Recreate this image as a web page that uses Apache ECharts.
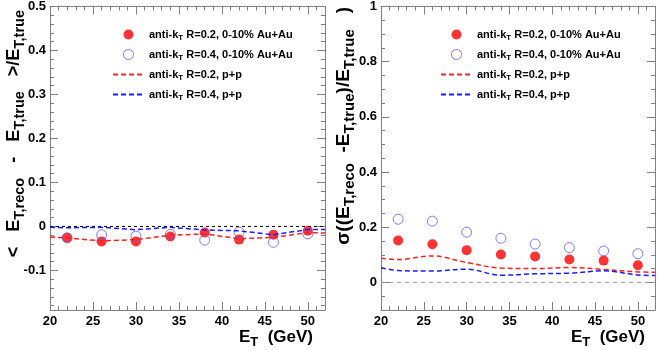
<!DOCTYPE html>
<html lang="en">
<head>
  <meta charset="UTF-8">
  <title>Jet energy scale and resolution</title>
  <script src="https://cdn.jsdelivr.net/npm/echarts@6/dist/echarts.min.js"></script>
  <style>
    html, body { margin: 0; padding: 0; background: #ffffff; }
    #chart { width: 664px; height: 350px; }
  </style>
</head>
<body>
<div id="chart"></div>
<script>
  // bin centres for the Au+Au points, and x positions of the p+p curves
  const etBins = [22, 26, 30, 34, 38, 42, 46, 50];
  const curveX = [20, 22, 26, 30, 34, 38, 42, 46, 50, 52];
  const zeroX = [20, 52];

  // left panel: mean (reco - true)/true
  const meanR02AuAu = [-0.026, -0.034, -0.034, -0.023, -0.014, -0.030, -0.019, -0.010];
  const meanR04AuAu = [-0.026, -0.019, -0.022, -0.018, -0.031, -0.013, -0.036, -0.017];
  const meanR02pp = [-0.024, -0.026, -0.033, -0.030, -0.020, -0.017, -0.028, -0.025, -0.014, -0.015];
  const meanR04pp = [-0.002, -0.003, -0.002, -0.0075, -0.002, -0.008, -0.010, -0.019, -0.007, -0.007];

  // right panel: sigma((reco - true)/true)
  const sigmaR02AuAu = [0.152, 0.138, 0.117, 0.101, 0.094, 0.083, 0.079, 0.062];
  const sigmaR04AuAu = [0.229, 0.222, 0.182, 0.160, 0.139, 0.126, 0.114, 0.104];
  const sigmaR02pp = [0.0875, 0.083, 0.096, 0.072, 0.052, 0.050, 0.054, 0.047, 0.038, 0.037];
  const sigmaR04pp = [0.053, 0.043, 0.041, 0.048, 0.026, 0.031, 0.0335, 0.042, 0.027, 0.025];

  const legendNames = [
    'anti-kT R=0.2, 0-10% Au+Au',
    'anti-kT R=0.4, 0-10% Au+Au',
    'anti-kT R=0.2, p+p',
    'anti-kT R=0.4, p+p'
  ];

  const FONT = '"Liberation Sans", Arial, sans-serif';
  const frameColor = '#808080';
  const tickStyle = { color: frameColor, width: 1 };
  const labelStyle = { color: '#000', fontFamily: FONT, fontWeight: 'bold', fontSize: 13 };

  const zip = (xs, ys) => xs.map((x, i) => [x, ys[i]]);

  function xAxes(gridIndex) {
    const base = {
      gridIndex, type: 'value', min: 20, max: 52,
      splitLine: { show: false },
      axisLine: { show: true, onZero: false, lineStyle: { color: frameColor, width: 1 } }
    };
    const hiddenLine = { show: false, onZero: false };
    return [
      Object.assign({}, base, { position: 'bottom', interval: 5,
        axisTick: { inside: true, length: 8, lineStyle: tickStyle },
        axisLabel: Object.assign({}, labelStyle, { margin: 5, showMaxLabel: false }) }),
      Object.assign({}, base, { position: 'bottom', interval: 1, axisLine: hiddenLine,
        axisTick: { inside: true, length: 4, lineStyle: tickStyle }, axisLabel: { show: false } }),
      Object.assign({}, base, { position: 'top', interval: 5,
        axisTick: { inside: true, length: 8, lineStyle: tickStyle }, axisLabel: { show: false } }),
      Object.assign({}, base, { position: 'top', interval: 1, axisLine: hiddenLine,
        axisTick: { inside: true, length: 4, lineStyle: tickStyle }, axisLabel: { show: false } })
    ];
  }

  function yAxes(gridIndex, min, max, minorSplit) {
    const base = {
      gridIndex, type: 'value', min, max,
      splitLine: { show: false },
      axisLine: { show: true, onZero: false, lineStyle: { color: frameColor, width: 1 } },
      axisTick: { inside: true, length: 8, lineStyle: tickStyle },
      minorTick: { show: true, splitNumber: minorSplit, length: 4, lineStyle: tickStyle }
    };
    return [
      Object.assign({}, base, { position: 'left',
        axisLabel: Object.assign({}, labelStyle, { margin: 4, showMinLabel: false }) }),
      Object.assign({}, base, { position: 'right', axisLabel: { show: false } })
    ];
  }

  function panelSeries(p, filled, open, ppR02, ppR04, smooth, zeroColor, zeroDash) {
    const ax = { xAxisIndex: p * 4, yAxisIndex: p * 2 };
    return [
      Object.assign({ type: 'line', data: zip(zeroX, [0, 0]), symbol: 'none', silent: true,
        lineStyle: { color: zeroColor, width: 1, type: zeroDash } }, ax),
      Object.assign({ name: legendNames[2], type: 'line', data: zip(curveX, ppR02), symbol: 'none',
        smooth: smooth, itemStyle: { opacity: 0 },
        lineStyle: { color: '#ff2020', width: 1.5, type: [5, 3] } }, ax),
      Object.assign({ name: legendNames[3], type: 'line', data: zip(curveX, ppR04), symbol: 'none',
        smooth: smooth, itemStyle: { opacity: 0 },
        lineStyle: { color: '#1a1aff', width: 1.5, type: [5, 3] } }, ax),
      Object.assign({ name: legendNames[0], type: 'scatter', data: zip(etBins, filled),
        symbol: 'circle', symbolSize: 10, itemStyle: { color: '#ff0000' } }, ax),
      Object.assign({ name: legendNames[1], type: 'scatter', data: zip(etBins, open),
        symbol: 'circle', symbolSize: 10,
        itemStyle: { color: 'rgba(255,255,255,0)', borderColor: '#5c5cff', borderWidth: 1 } }, ax)
    ];
  }

  const subRich = {
    sub: { fontFamily: FONT, fontWeight: 'bold', fontSize: 8, padding: [6, 0, 0, 0] }
  };

  function legendAt(left) {
    return {
      orient: 'vertical', left: left, top: 24,
      itemWidth: 31, itemHeight: 10, itemGap: 7.5,
      selectedMode: false,
      data: [
        { name: legendNames[0] },
        { name: legendNames[1], itemStyle: { borderWidth: 1, borderColor: '#5c5cff' } },
        { name: legendNames[2], itemStyle: { opacity: 0 } },
        { name: legendNames[3], itemStyle: { opacity: 0 } }
      ],
      formatter: name => 'anti-k{sub|T}' + name.slice(7),
      textStyle: { color: '#000', fontFamily: FONT, fontWeight: 'bold', fontSize: 11, rich: subRich }
    };
  }

  function titleText(x, y, text, rotation, size, subSize) {
    return {
      type: 'text', x: x, y: y, rotation: rotation, silent: true,
      style: {
        text: text, fill: '#000', fontFamily: FONT, fontWeight: 'bold', fontSize: size,
        align: 'right', verticalAlign: 'middle',
        rich: {
          sub: { fontFamily: FONT, fontWeight: 'bold', fontSize: subSize, fill: '#000',
            padding: [Math.round(subSize * 0.8), 0, 0, 0] }
        }
      }
    };
  }

  const chart = echarts.init(document.getElementById('chart'));
  chart.setOption({
    animation: false,
    backgroundColor: '#ffffff',
    grid: [
      { left: 50, top: 6, width: 275, height: 304 },
      { left: 381, top: 6, width: 274, height: 304 }
    ],
    xAxis: xAxes(0).concat(xAxes(1)),
    yAxis: yAxes(0, -0.19, 0.5, 5).concat(yAxes(1, -0.1, 1, 4)),
    legend: [legendAt(107), legendAt(435)],
    series: panelSeries(0, meanR02AuAu, meanR04AuAu, meanR02pp, meanR04pp, false, '#000000', [3, 3])
      .concat(panelSeries(1, sigmaR02AuAu, sigmaR04AuAu, sigmaR02pp, sigmaR04pp, 0.35, '#999999', [4, 4])),
    graphic: [
      titleText(14, 10, '<   E{sub|T,reco}   -   E{sub|T,true}   >/E{sub|T,true}', Math.PI / 2, 18, 14.5),
      titleText(344, 7, 'σ((E{sub|T,reco}  -E{sub|T,true})/E{sub|T,true}   )', Math.PI / 2, 19, 15),
      titleText(313, 337, 'E{sub|T}  (GeV)', 0, 17, 13),
      titleText(645, 337, 'E{sub|T}  (GeV)', 0, 17, 13)
    ]
  });
</script>
</body>
</html>
